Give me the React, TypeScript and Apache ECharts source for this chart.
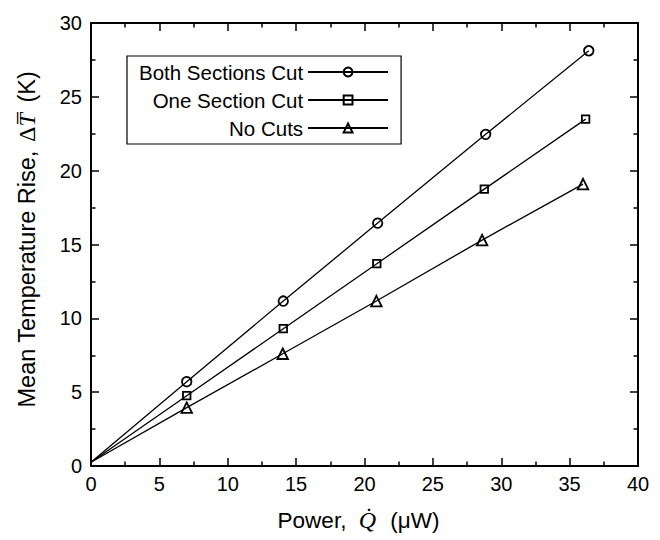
import React, { useEffect, useRef } from "react";
import * as echarts from "echarts";

const seriesNames = ["Both Sections Cut", "One Section Cut", "No Cuts"];
const seriesSymbols = ["circle", "rect", "triangle"];
const symbolSizes = [9.5, 7.5, 10.5];
const origin = [0, 0.25];
const bothX = [7.0, 14.06, 20.96, 28.86, 36.4];
const bothY = [5.71, 11.17, 16.45, 22.46, 28.12];
const oneX = [7.0, 14.06, 20.9, 28.76, 36.17];
const oneY = [4.76, 9.3, 13.7, 18.75, 23.49];
const noX = [7.0, 14.02, 20.87, 28.6, 35.98];
const noY = [3.95, 7.6, 11.17, 15.3, 19.09];
const xTicks = [0, 5, 10, 15, 20, 25, 30, 35, 40];
const yTicks = [0, 5, 10, 15, 20, 25, 30];

const SANS = "'Liberation Sans', Arial, Helvetica, sans-serif";
const SERIF = "'Liberation Serif', 'DejaVu Serif', serif";

function buildData(xs: number[], ys: number[]) {
  const pts: any[] = [{ value: origin, symbol: "none" }];
  xs.forEach((x, i) => pts.push([x, ys[i]]));
  return pts;
}

export default function App() {
  const ref = useRef<HTMLDivElement>(null);
  useEffect(() => {
    if (!ref.current) return;
    const chart = echarts.init(ref.current, null, { renderer: "svg" });
    const xs = [bothX, oneX, noX];
    const ys = [bothY, oneY, noY];
    const axisCommon = {
      axisLine: { show: true, onZero: false, lineStyle: { color: "#000", width: 2 } },
      axisTick: { show: true, inside: true, length: 8, lineStyle: { color: "#000", width: 1.5 } },
      minorTick: { show: true, splitNumber: 2, length: 4.5, lineStyle: { color: "#000", width: 1.5 } },
      splitLine: { show: false },
      minorSplitLine: { show: false },
    };
    const option: any = {
      animation: false,
      backgroundColor: "#fff",
      grid: { left: 91, right: 22, top: 23, bottom: 74, containLabel: false },
      legend: {
        data: seriesNames,
        orient: "vertical",
        align: "right",
        left: 127,
        top: 56,
        itemWidth: 80,
        itemHeight: 11,
        itemGap: 7,
        padding: [5.5, 12, 5.5, 12],
        borderColor: "#000",
        borderWidth: 1.2,
        textStyle: { fontFamily: SANS, fontSize: 20.5, color: "#000" },
      },
      xAxis: [
        {
          type: "value",
          min: xTicks[0],
          max: xTicks[xTicks.length - 1],
          interval: 5,
          position: "bottom",
          ...axisCommon,
          axisLabel: { show: true, margin: 8, fontFamily: SANS, fontSize: 20, color: "#000" },
          name: "{s|Power, }{m|Q\u0307}{s| (\u03bcW)}",
          nameLocation: "middle",
          nameGap: 42,
          nameTextStyle: {
            padding: [0, 12, 0, 0],
            rich: {
              s: { fontFamily: SANS, fontSize: 22.5, color: "#000" },
              m: { fontFamily: SERIF, fontStyle: "italic", fontSize: 24, color: "#000", padding: [0, 8, 0, 6] },
            },
          },
        },
        {
          type: "value",
          min: xTicks[0],
          max: xTicks[xTicks.length - 1],
          interval: 5,
          position: "top",
          ...axisCommon,
          axisLabel: { show: false },
        },
      ],
      yAxis: [
        {
          type: "value",
          min: yTicks[0],
          max: yTicks[yTicks.length - 1],
          interval: 5,
          position: "left",
          ...axisCommon,
          axisLabel: { show: true, margin: 9, fontFamily: SANS, fontSize: 20, color: "#000" },
          name: "{s|Mean Temperature Rise, }{d|\u0394}{m|T\u0305}{s| (K)}",
          nameLocation: "middle",
          nameRotate: 90,
          nameGap: 52,
          nameTextStyle: {
            padding: [0, 0, 0, 10],
            rich: {
              s: { fontFamily: SANS, fontSize: 23.5, color: "#000" },
              d: { fontFamily: SERIF, fontSize: 24, color: "#000", padding: [0, 0, 0, 2] },
              m: { fontFamily: SERIF, fontStyle: "italic", fontSize: 24, color: "#000", padding: [0, 4, 0, 0] },
            },
          },
        },
        {
          type: "value",
          min: yTicks[0],
          max: yTicks[yTicks.length - 1],
          interval: 5,
          position: "right",
          ...axisCommon,
          axisLabel: { show: false },
        },
      ],
      series: seriesNames.map((name, i) => ({
        name,
        type: "line",
        xAxisIndex: 0,
        yAxisIndex: 0,
        data: buildData(xs[i], ys[i]),
        symbol: seriesSymbols[i],
        symbolSize: symbolSizes[i],
        showAllSymbol: true,
        color: "#000",
        lineStyle: { color: "#000", width: 1.3 },
        itemStyle: { color: "rgba(255,255,255,0)", borderColor: "#000", borderWidth: 1.8 },
        emphasis: { disabled: true },
      })),
    };
    chart.setOption(option);
    return () => chart.dispose();
  }, []);
  return (
    <div
      ref={ref}
      style={{ position: "absolute", left: 0, top: 0, width: 660, height: 540, background: "#fff" }}
    />
  );
}
